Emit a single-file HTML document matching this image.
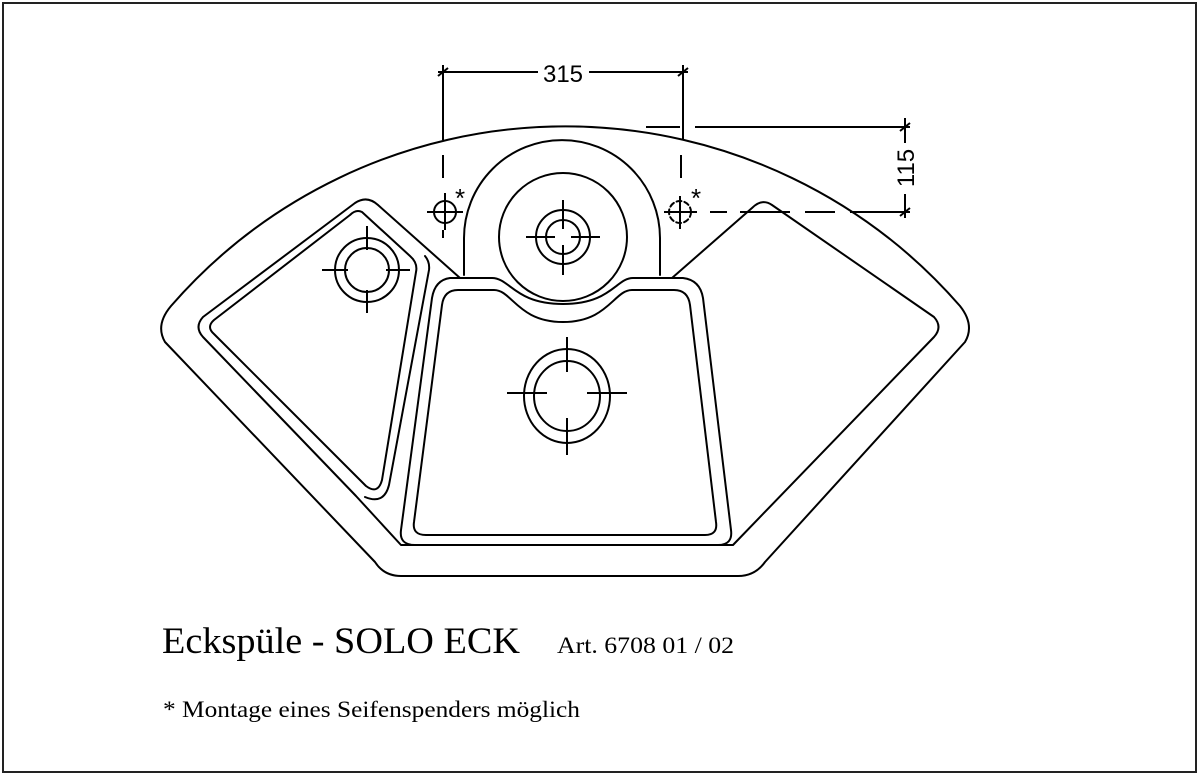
<!DOCTYPE html>
<html><head><meta charset="utf-8"><style>
html,body{margin:0;padding:0;background:#fff;}
svg{display:block;}
</style></head><body>
<svg width="1200" height="776" viewBox="0 0 1200 776" xmlns="http://www.w3.org/2000/svg">
<rect x="3" y="3" width="1193" height="769" fill="#fff" stroke="#222" stroke-width="2"/>
<g fill="none" stroke="#000" stroke-width="2" stroke-linejoin="round" stroke-linecap="round">
<path d="M171,306 A523,523 0 0 1 960,306 Q975,325 965,342 L765,562 Q755,576 738,576 L401,576 Q384,576 375,562 L165,342 Q155,325 171,306 Z"/>
<path d="M460,278 L378,205 Q367,195 355,203 L203,317 Q194,327 203,337 L356,496 L401,545 L733,545 L934,337 Q943,327 934,317 L772,205 Q762,198 752,208 L672,278"/>
<path d="M425,256 Q430,262 429,270 L389,485 Q384,505 365,497"/>
<path d="M362,212 L410,256 Q418,263 416,272 L382,480 Q378,495 366,486 L214,334 Q206,327 214,320 L350,215 Q356,209 362,212 Z"/>
<path d="M450,278 L492,278 C510,278 515,304 563,304 C611,304 616,278 633,278 L683,278 Q700,280 703,298 L731,530 Q733,545 718,545 L415,545 Q399,545 401,530 L432,298 Q435,280 450,278 Z"/>
<path d="M458,290 L494,290 C512,290 518,322 563,322 C608,322 614,290 632,290 L674,290 Q688,290 690,305 L716,522 Q718,535 705,535 L426,535 Q412,535 414,522 L442,305 Q444,290 458,290 Z"/>
<path d="M464,275 L464,238 A98,98 0 0 1 660,238 L660,275"/>
<circle cx="563" cy="237" r="64"/>
<circle cx="563" cy="237" r="27"/>
<circle cx="563" cy="237" r="17"/>
<circle cx="367" cy="270" r="32"/>
<circle cx="367" cy="270" r="22"/>
<ellipse cx="567" cy="396" rx="43" ry="47"/>
<ellipse cx="567" cy="396" rx="33" ry="35"/>
<circle cx="445" cy="212" r="11"/>
<circle cx="680" cy="212" r="11" stroke-dasharray="5,3"/>
</g>
<g stroke="#000" stroke-width="2" fill="none">
<path d="M526,237 H555 M571,237 H600 M563,200 V229 M563,245 V275"/>
<path d="M322,270 H348 M386,270 H410 M367,226 V250 M367,290 V313"/>
<path d="M507,393 H547 M587,393 H627 M567,337 V372 M567,418 V455"/>
<path d="M427,212 H463 M445,193 V230"/>
<path d="M664,212 H697 M680,196 V229"/>
<path d="M438,72 H538 M589,72 H688 M443,65 V140 M683,65 V140 M443,155 V178 M681,155 V178 M443,230 V238"/>
<path d="M438,76 L448,68 M678,76 L688,68"/>
<path d="M646,127 H680 M695,127 H910 M905,118 V143 M905,194 V218"/>
<path d="M710,212 H727 M740,212 H790 M805,212 H835 M850,212 H910"/>
<path d="M900,131 L910,123 M900,216 L910,208"/>
</g>
<g font-family="Liberation Sans, sans-serif" fill="#000">
<text x="563" y="82" font-size="24" text-anchor="middle">315</text>
<text transform="translate(914,168) rotate(-90)" font-size="24" text-anchor="middle">115</text>
<text x="455" y="207" font-size="26">*</text>
<text x="691" y="207" font-size="26">*</text>
</g>
<g font-family="Liberation Serif, serif" fill="#000">
<text x="162" y="653" font-size="37" textLength="358" lengthAdjust="spacingAndGlyphs">Eckspüle - SOLO ECK</text>
<text x="557" y="653" font-size="23" textLength="177" lengthAdjust="spacingAndGlyphs">Art. 6708 01 / 02</text>
<text x="163" y="717" font-size="23" textLength="417" lengthAdjust="spacingAndGlyphs">* Montage eines Seifenspenders möglich</text>
</g>
</svg>
</body></html>
